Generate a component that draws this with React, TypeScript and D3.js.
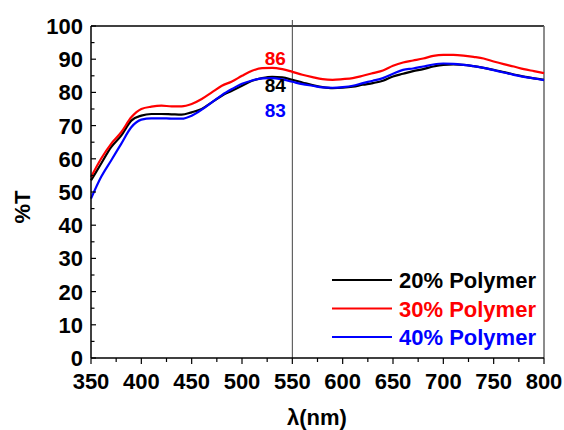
import React from "react";
import * as d3 from "d3";

// wavelength grid (nm)
const wavelengths = [
  350, 360, 370, 380, 390, 400, 410, 420, 430, 440, 450, 460, 470, 480, 490,
  500, 510, 520, 530, 540, 550, 560, 570, 580, 590, 600, 610, 620, 630, 640,
  650, 660, 670, 680, 690, 700, 710, 720, 730, 740, 750, 760, 770, 780, 790, 800,
];

// %T for each sample
const polymer20 = [
  53.5, 58.5, 63.5, 67, 71.5, 73, 73.5, 73.5, 73.4, 73.3, 74, 75, 77, 79, 80.5,
  82, 83.5, 84.3, 84.7, 84.5, 83.8, 83, 82.2, 81.6, 81.3, 81.4, 81.7, 82.3, 82.8, 83.5,
  84.8, 85.6, 86.4, 87, 87.8, 88.3, 88.4, 88.3, 87.9, 87.4, 86.8, 86.1, 85.4, 84.8, 84.2, 83.8,
];
const polymer30 = [
  54.5, 60, 64.5, 68, 72.5, 75, 75.7, 76, 75.8, 75.8, 76.5, 78, 80, 82, 83.3,
  85, 86.5, 87.3, 87.4, 87, 86.2, 85.3, 84.6, 84, 83.8, 84, 84.3, 85, 85.8, 86.6,
  88, 89, 89.6, 90.2, 91, 91.3, 91.3, 91.1, 90.7, 90.2, 89.3, 88.5, 87.8, 87, 86.4, 85.8,
];
const polymer40 = [
  48, 54.5, 59.5, 64.5, 69.5, 71.8, 72.2, 72.2, 72.1, 72.1, 73, 74.8, 77, 79.2, 81,
  82.6, 83.6, 84.2, 84.3, 83.9, 83.2, 82.5, 82, 81.5, 81.4, 81.6, 82, 82.8, 83.5, 84.3,
  85.6, 86.8, 87.2, 87.8, 88.4, 88.7, 88.6, 88.3, 87.9, 87.4, 86.7, 86, 85.3, 84.7, 84.2, 83.7,
];

const seriesNames = ["20% Polymer", "30% Polymer", "40% Polymer"];
const seriesColors = ["#000000", "#ff0000", "#0000ff"];

// peak annotations (red, black, blue)
const peakLabels = ["86", "84", "83"];

const xTicks = [350, 400, 450, 500, 550, 600, 650, 700, 750, 800];
const yTicks = [0, 10, 20, 30, 40, 50, 60, 70, 80, 90, 100];

const FONT = "'Liberation Sans', Arial, sans-serif";

export default function App() {
  const width = 564;
  const height = 430;
  const margin = { top: 26, right: 20, bottom: 72, left: 91 };
  const innerW = width - margin.left - margin.right;
  const innerH = height - margin.top - margin.bottom;

  const x = d3.scaleLinear().domain([350, 800]).range([margin.left, margin.left + innerW]);
  const y = d3.scaleLinear().domain([0, 100]).range([margin.top + innerH, margin.top]);

  const line = d3
    .line<number>()
    .x((_, i) => x(wavelengths[i]))
    .y((d) => y(d))
    .curve(d3.curveMonotoneX);

  const allSeries = [polymer20, polymer30, polymer40];

  const xMinor = d3.range(375, 800, 50);
  const yMinor = d3.range(5, 100, 10);

  const bottom = y(0);
  const left = x(350);
  const right = x(800);
  const top = y(100);

  return (
    <svg
      width={width}
      height={height}
      style={{ position: "absolute", left: 0, top: 0, background: "#fff" }}
      fontFamily={FONT}
      fontWeight="bold"
    >
      {/* frame */}
      <line x1={left} x2={right} y1={top} y2={top} stroke="#000" strokeWidth={1.5} />
      <line x1={right} x2={right} y1={top} y2={bottom} stroke="#666" strokeWidth={1.5} />
      {/* 550 nm marker */}
      <line x1={x(550)} x2={x(550)} y1={top - 6} y2={bottom} stroke="#444" strokeWidth={1} />

      {/* curves */}
      {allSeries.map((s, i) => (
        <path key={i} d={line(s) ?? ""} fill="none" stroke={seriesColors[i]} strokeWidth={2.2} />
      ))}

      {/* left axis */}
      <line x1={left} x2={left} y1={top} y2={bottom} stroke="#000" strokeWidth={1.5} />
      {yTicks.map((t) => (
        <g key={t}>
          <line x1={left} x2={left + 5} y1={y(t)} y2={y(t)} stroke="#000" strokeWidth={1.2} />
          <text x={left - 8} y={y(t)} dy="0.36em" textAnchor="end" fontSize={22}>
            {t}
          </text>
        </g>
      ))}
      {yMinor.map((t) => (
        <line key={t} x1={left} x2={left + 3.5} y1={y(t)} y2={y(t)} stroke="#000" strokeWidth={1.2} />
      ))}

      {/* bottom axis */}
      <line x1={left} x2={right} y1={bottom} y2={bottom} stroke="#000" strokeWidth={1.5} />
      {xTicks.map((t) => (
        <g key={t}>
          <line x1={x(t)} x2={x(t)} y1={bottom} y2={bottom + 6} stroke="#000" strokeWidth={1.2} />
          <text x={x(t)} y={389} textAnchor="middle" fontSize={22}>
            {t}
          </text>
        </g>
      ))}
      {xMinor.map((t) => (
        <line key={t} x1={x(t)} x2={x(t)} y1={bottom} y2={bottom + 4} stroke="#000" strokeWidth={1.2} />
      ))}

      {/* axis titles */}
      <text x={317} y={425} textAnchor="middle" fontSize={22}>
        λ(nm)
      </text>
      <text transform="translate(30,207) rotate(-90)" textAnchor="middle" fontSize={22}>
        %T
      </text>

      {/* peak labels */}
      <text x={x(533)} y={y(88.3)} textAnchor="middle" fontSize={19} fill={seriesColors[1]}>
        {peakLabels[0]}
      </text>
      <text x={x(533)} y={y(80.2)} textAnchor="middle" fontSize={19} fill={seriesColors[0]}>
        {peakLabels[1]}
      </text>
      <text x={x(533)} y={y(72.7)} textAnchor="middle" fontSize={19} fill={seriesColors[2]}>
        {peakLabels[2]}
      </text>

      {/* legend */}
      {seriesNames.map((name, i) => {
        const ly = 280 + i * 28.5;
        return (
          <g key={name}>
            <line x1={332} x2={392} y1={ly} y2={ly} stroke={seriesColors[i]} strokeWidth={2.2} />
            <text x={399} y={ly + 8} fontSize={22} fill={seriesColors[i]}>
              {name}
            </text>
          </g>
        );
      })}
    </svg>
  );
}
